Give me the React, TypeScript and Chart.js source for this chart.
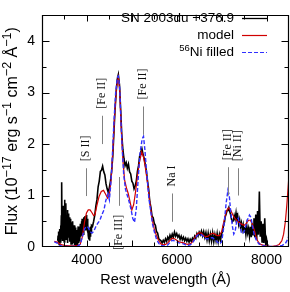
import React, { useEffect, useRef } from 'react';
import { Chart, registerables } from 'chart.js';

Chart.register(...registerables);

const xTickValues = [4000, 6000, 8000];
const yTickValues = [0, 1, 2, 3, 4];

// Observed spectrum SN 2003du +376.9 d: [wavelength (Å), flux]
const observed: [number, number][] = [
  [3350, 0.12], [3358, 0.22], [3366, 0.08], [3374, 0.30], [3382, 0.05], [3390, 0.18], [3398, 0.35],
  [3406, 0.10], [3414, 0.42], [3422, 0.15], [3430, 0.60], [3438, 1.26], [3446, 0.25], [3454, 0.70],
  [3462, 0.12], [3470, 0.80], [3478, 0.30], [3486, 0.55], [3494, 0.10], [3502, 0.92], [3510, 0.40],
  [3518, 0.75], [3526, 0.20], [3534, 0.85], [3542, 0.15], [3550, 0.60], [3558, 0.35], [3566, 0.72],
  [3574, 0.08], [3582, 0.50], [3590, 0.65], [3598, 0.18], [3606, 0.58], [3614, 0.10], [3622, 0.45],
  [3630, 0.25], [3638, 0.55], [3646, 0.06], [3654, 0.48], [3662, 0.20], [3670, 0.38], [3678, 0.05],
  [3686, 0.50], [3694, 0.15], [3702, 0.35], [3710, 0.08], [3718, 0.42], [3726, 0.04], [3734, 0.30],
  [3742, 0.12], [3750, 0.38], [3758, 0.05], [3766, 0.28], [3774, 0.10], [3782, 0.33], [3790, 0.04],
  [3798, 0.25], [3806, 0.40], [3814, 0.08], [3822, 0.30], [3830, 0.12], [3838, 0.38], [3846, 0.15],
  [3854, 0.45], [3862, 0.20], [3870, 0.35], [3878, 0.50], [3886, 0.22], [3894, 0.55], [3902, 0.28],
  [3910, 0.48], [3918, 0.25], [3926, 0.58], [3934, 0.30], [3942, 0.52], [3950, 0.35], [3958, 0.60],
  [3966, 0.32], [3974, 0.55], [3982, 0.42], [3990, 0.62], [3998, 0.38], [4006, 0.55], [4014, 0.30],
  [4022, 0.45], [4030, 0.22], [4038, 0.38], [4046, 0.15], [4054, 0.28], [4062, 0.12], [4070, 0.32],
  [4078, 0.20], [4086, 0.40], [4094, 0.28], [4102, 0.42], [4125, 0.40], [4150, 0.50], [4175, 0.62],
  [4200, 0.80], [4225, 0.93],
  [4250, 1.17], [4275, 1.28], [4300, 1.47], [4325, 1.49], [4350, 1.57], [4375, 1.46], [4400, 1.40],
  [4425, 1.23], [4450, 1.13], [4475, 1.06], [4500, 1.16], [4525, 1.28], [4550, 1.47], [4575, 1.75],
  [4600, 2.20], [4625, 2.65], [4650, 3.00], [4675, 3.25], [4700, 3.35], [4725, 3.15], [4750, 2.70],
  [4775, 2.20], [4800, 1.90], [4825, 1.72], [4850, 1.58], [4875, 1.64], [4900, 1.53], [4925, 1.61],
  [4950, 1.46], [4975, 1.42], [5000, 1.28], [5025, 1.24], [5050, 1.13], [5075, 1.19], [5100, 1.28],
  [5125, 1.47], [5150, 1.58], [5175, 1.77], [5200, 1.84], [5225, 1.91], [5250, 1.80], [5275, 1.72],
  [5300, 1.60], [5325, 1.47], [5350, 1.28], [5375, 1.12], [5400, 0.88], [5425, 0.77], [5450, 0.60],
  [5475, 0.57], [5500, 0.46], [5525, 0.42], [5550, 0.30], [5575, 0.27], [5600, 0.16], [5625, 0.14],
  [5650, 0.12], [5675, 0.08], [5700, 0.13], [5725, 0.09], [5750, 0.16], [5775, 0.11], [5800, 0.19],
  [5825, 0.14], [5850, 0.23], [5875, 0.17], [5900, 0.25], [5925, 0.19], [5950, 0.29], [5975, 0.21],
  [6000, 0.26], [6025, 0.19], [6050, 0.23], [6075, 0.15], [6100, 0.21], [6125, 0.14], [6150, 0.19],
  [6175, 0.12], [6200, 0.17], [6225, 0.11], [6250, 0.16], [6275, 0.09], [6300, 0.15], [6325, 0.11],
  [6350, 0.17], [6375, 0.13], [6400, 0.21], [6425, 0.17], [6450, 0.26], [6475, 0.21], [6500, 0.29],
  [6525, 0.24], [6550, 0.31], [6575, 0.22], [6600, 0.30], [6625, 0.19], [6650, 0.28], [6675, 0.14],
  [6700, 0.27], [6725, 0.12], [6750, 0.25], [6775, 0.11], [6800, 0.27], [6825, 0.10], [6850, 0.24],
  [6875, 0.12], [6900, 0.26], [6925, 0.10], [6950, 0.24], [6975, 0.13], [7000, 0.26], [7020, 0.30],
  [7040, 0.41], [7060, 0.47], [7080, 0.59], [7100, 0.64], [7120, 0.71], [7140, 0.73], [7160, 0.77],
  [7180, 0.69], [7200, 0.63], [7220, 0.54], [7240, 0.49], [7260, 0.51], [7280, 0.61], [7300, 0.54],
  [7320, 0.66], [7340, 0.49], [7360, 0.59], [7380, 0.44], [7400, 0.53], [7420, 0.39], [7440, 0.47],
  [7460, 0.34], [7480, 0.43], [7500, 0.29], [7520, 0.39], [7540, 0.24], [7560, 0.41], [7580, 0.27],
  [7600, 0.36], [7620, 0.21], [7640, 0.39], [7660, 0.19], [7680, 0.46], [7700, 0.24], [7720, 0.56],
  [7740, 0.19], [7760, 0.63], [7780, 0.14], [7800, 0.70], [7820, 0.24], [7840, 1.08], [7860, 0.20],
  [7880, 0.50], [7900, 0.10], [7920, 0.45], [7940, 0.08], [7960, 0.56], [7980, 0.05], [8000, 0.15],
  [8020, 0.03], [8040, 0.05],
];

// Model spectrum
const model: [number, number][] = [
  [3275, 0.11], [3350, 0.09], [3400, 0.06], [3450, 0.04], [3500, 0.03], [3600, 0.02], [3700, 0.02],
  [3800, 0.03], [3850, 0.05], [3900, 0.20], [3950, 0.50], [3990, 0.66], [4030, 0.72], [4070, 0.72],
  [4110, 0.67], [4150, 0.61], [4180, 0.63], [4220, 0.80], [4270, 0.98], [4320, 1.08], [4370, 1.10],
  [4420, 1.02], [4460, 0.95], [4500, 1.02], [4540, 1.32], [4580, 1.90], [4620, 2.60], [4660, 3.10],
  [4700, 3.30], [4730, 3.05], [4760, 2.40], [4800, 1.70], [4840, 1.30], [4880, 1.15], [4920, 1.04],
  [4960, 0.88], [5000, 0.72], [5040, 0.82], [5080, 1.05], [5120, 1.35], [5170, 1.65], [5220, 1.85],
  [5260, 1.75], [5300, 1.55], [5350, 1.25], [5400, 0.88], [5450, 0.55], [5500, 0.35], [5550, 0.22],
  [5600, 0.12], [5650, 0.06], [5700, 0.04], [5750, 0.05], [5800, 0.08], [5850, 0.13], [5900, 0.17],
  [5950, 0.16], [6000, 0.13], [6050, 0.10], [6100, 0.09], [6150, 0.08], [6200, 0.06], [6250, 0.05],
  [6300, 0.06], [6350, 0.10], [6400, 0.18], [6450, 0.25], [6500, 0.28], [6550, 0.27], [6600, 0.22],
  [6650, 0.20], [6700, 0.21], [6750, 0.25], [6800, 0.27], [6850, 0.25], [6900, 0.22], [6950, 0.22],
  [7000, 0.30], [7050, 0.50], [7100, 0.68], [7150, 0.76], [7200, 0.72], [7250, 0.62], [7300, 0.55],
  [7350, 0.50], [7400, 0.47], [7450, 0.44], [7500, 0.42], [7550, 0.46], [7600, 0.52], [7640, 0.52],
  [7680, 0.45], [7720, 0.35], [7760, 0.22], [7800, 0.12], [7850, 0.06], [7900, 0.04], [8000, 0.02],
  [8100, 0.01], [8200, 0.02], [8280, 0.05], [8340, 0.12], [8380, 0.25], [8420, 0.50], [8450, 0.80],
  [8480, 1.15], [8500, 1.40],
];

// 56Ni filled model
const niFilled: [number, number][] = [
  [3275, 0.10], [3350, 0.07], [3400, 0.03], [3450, 0.01], [3500, 0.01], [3600, 0.01], [3700, 0.01],
  [3800, 0.02], [3850, 0.05], [3900, 0.20], [3950, 0.36], [3990, 0.40], [4030, 0.38], [4070, 0.30],
  [4110, 0.27], [4150, 0.30], [4190, 0.38], [4240, 0.46], [4290, 0.52], [4330, 0.62], [4380, 0.72],
  [4420, 0.90], [4470, 1.04], [4500, 0.92], [4530, 1.20], [4560, 1.65], [4600, 2.40], [4640, 3.00],
  [4680, 3.30], [4700, 3.32], [4730, 3.10], [4760, 2.40], [4790, 1.85], [4820, 1.40], [4860, 1.12],
  [4900, 1.00], [4940, 0.88], [4980, 0.74], [5020, 0.56], [5060, 0.48], [5100, 0.75], [5140, 1.30],
  [5180, 1.80], [5230, 2.10], [5260, 2.15], [5290, 1.90], [5330, 1.45], [5380, 0.95], [5420, 0.70],
  [5460, 0.45], [5500, 0.30], [5550, 0.15], [5600, 0.07], [5650, 0.03], [5700, 0.02], [5750, 0.02],
  [5800, 0.04], [5850, 0.09], [5900, 0.13], [5950, 0.12], [6000, 0.10], [6050, 0.08], [6100, 0.07],
  [6150, 0.06], [6200, 0.04], [6250, 0.03], [6300, 0.04], [6350, 0.08], [6400, 0.15], [6450, 0.22],
  [6500, 0.25], [6550, 0.24], [6600, 0.20], [6650, 0.16], [6700, 0.16], [6750, 0.18], [6800, 0.18],
  [6850, 0.14], [6900, 0.10], [6950, 0.06], [7000, 0.10], [7050, 0.40], [7100, 0.85], [7140, 1.10],
  [7170, 1.00], [7200, 0.70], [7240, 0.40], [7270, 0.25], [7300, 0.30], [7340, 0.52], [7370, 0.56],
  [7400, 0.45], [7440, 0.28], [7480, 0.26], [7520, 0.35], [7570, 0.52], [7620, 0.62], [7650, 0.58],
  [7690, 0.40], [7730, 0.22], [7780, 0.12], [7830, 0.06], [7900, 0.03], [8000, 0.01], [8200, 0.01],
  [8350, 0.03], [8420, 0.07], [8470, 0.15], [8500, 0.22],
];

// Line identifications
const lineWaves = [3990, 4335, 4705, 5245, 5900, 7148, 7372];
const lineLabels = ['[S II]', '[Fe II]', '[Fe III]', '[Fe II]', 'Na I', '[Fe II]', '[Ni II]'];
const lineTops = [1.53, 2.55, 1.36, 2.73, 1.04, 1.55, 1.53];
const lineBottoms = [0.99, 2.0, 0.8, 2.18, 0.49, 1.0, 1.0];
const lineLabelBelow = [false, false, true, false, false, false, false];

const legendLabels = ['SN 2003du +376.9', 'model', '^{56}Ni filled'];
const xTitle = 'Rest wavelength (Å)';
const yTitle = 'Flux (10^{−17} erg s^{−1} cm^{−2} Å^{−1})';

const SANS = '"Liberation Sans", Arial, sans-serif';
const SERIF = '"Liberation Serif", "Times New Roman", serif';
const COL_OBS = '#000000';
const COL_MODEL = '#d00000';
const COL_NI = '#3030ff';

type Seg = { t: string; sup: boolean };
function parseRich(s: string): Seg[] {
  const out: Seg[] = [];
  const re = /\^\{([^}]*)\}/g;
  let last = 0;
  let m: RegExpExecArray | null;
  while ((m = re.exec(s))) {
    if (m.index > last) out.push({ t: s.slice(last, m.index), sup: false });
    out.push({ t: m[1], sup: true });
    last = m.index + m[0].length;
  }
  if (last < s.length) out.push({ t: s.slice(last), sup: false });
  return out;
}

function fontFor(size: number) {
  return `${size}px ${SANS}`;
}

function richWidth(ctx: CanvasRenderingContext2D, segs: Seg[], size: number, supSize: number) {
  let w = 0;
  for (const s of segs) {
    ctx.font = fontFor(s.sup ? supSize : size);
    w += ctx.measureText(s.t).width;
  }
  return w;
}

function drawRichRight(ctx: CanvasRenderingContext2D, segs: Seg[], xRight: number, y0: number, size: number, supSize: number, rise: number) {
  let x = xRight;
  ctx.textBaseline = 'middle';
  ctx.textAlign = 'right';
  for (let i = segs.length - 1; i >= 0; i--) {
    const s = segs[i];
    ctx.font = fontFor(s.sup ? supSize : size);
    ctx.fillText(s.t, x, s.sup ? y0 - rise : y0);
    x -= ctx.measureText(s.t).width;
  }
}

const decorPlugin = {
  id: 'decor',
  afterDatasetsDraw(chart: any) {
    const { ctx, scales } = chart;
    const xs = scales.x;
    const ys = scales.y;
    ctx.save();
    for (let i = 0; i < lineWaves.length; i++) {
      const px = Math.round(xs.getPixelForValue(lineWaves[i])) + 0.5;
      const yt = ys.getPixelForValue(lineTops[i]);
      const yb = ys.getPixelForValue(lineBottoms[i]);
      ctx.strokeStyle = '#808080';
      ctx.lineWidth = 1;
      ctx.setLineDash([]);
      ctx.beginPath();
      ctx.moveTo(px, yt);
      ctx.lineTo(px, yb);
      ctx.stroke();
      ctx.font = `12px ${SERIF}`;
      ctx.fillStyle = '#111';
      ctx.textAlign = 'left';
      const w = ctx.measureText(lineLabels[i]).width;
      const start = lineLabelBelow[i] ? yb + 9 + w : yt - 7;
      ctx.save();
      ctx.translate(px - 1, start);
      ctx.rotate(-Math.PI / 2);
      ctx.textBaseline = 'middle';
      ctx.fillText(lineLabels[i], 0, 0);
      ctx.restore();
    }
    ctx.restore();
  },
  afterDraw(chart: any) {
    const { ctx, chartArea: a, scales } = chart;
    const xs = scales.x;
    const ys = scales.y;
    ctx.save();
    ctx.setLineDash([]);

    const L = Math.round(a.left) + 0.5;
    const R = Math.round(a.right) - 0.5;
    const T = Math.round(a.top) + 0.5;
    const B = Math.round(a.bottom) - 0.5;
    ctx.strokeStyle = '#000';
    ctx.lineWidth = 1.2;
    ctx.beginPath();
    ctx.rect(L, T, R - L, B - T);
    ctx.stroke();
    ctx.lineWidth = 1;
    ctx.beginPath();
    for (let v = 3500; v < 8500; v += 500) {
      const px = Math.round(xs.getPixelForValue(v)) + 0.5;
      const len = v % 1000 === 0 ? 6 : 4;
      ctx.moveTo(px, B); ctx.lineTo(px, B - len);
      ctx.moveTo(px, T); ctx.lineTo(px, T + len);
    }
    for (let v = 0.5; v < 4.5; v += 0.5) {
      const py = Math.round(ys.getPixelForValue(v)) + 0.5;
      const len = Number.isInteger(v) ? 7 : 4;
      ctx.moveTo(L, py); ctx.lineTo(L + len, py);
      ctx.moveTo(R, py); ctx.lineTo(R - len, py);
    }
    ctx.stroke();

    // legend
    const rowY = [18, 35, 52];
    const cols = [COL_OBS, COL_MODEL, COL_NI];
    const dashes = [[], [], [4, 2]];
    for (let i = 0; i < legendLabels.length; i++) {
      const segs = parseRich(legendLabels[i]);
      ctx.fillStyle = '#000';
      drawRichRight(ctx, segs, 234, rowY[i], 13.5, 9.5, 4);
      ctx.strokeStyle = cols[i];
      ctx.lineWidth = i === 0 ? 1.3 : 1.2;
      ctx.setLineDash(dashes[i]);
      ctx.beginPath();
      ctx.moveTo(242, rowY[i] + 0.5);
      ctx.lineTo(267, rowY[i] + 0.5);
      ctx.stroke();
      ctx.setLineDash([]);
    }

    ctx.fillStyle = '#000';
    ctx.font = fontFor(14.5);
    ctx.textAlign = 'center';
    ctx.textBaseline = 'middle';
    ctx.fillText(xTitle, (a.left + a.right) / 2, 280);

    const ysegs = parseRich(yTitle);
    const yw = richWidth(ctx, ysegs, 16, 12.5);
    ctx.save();
    ctx.translate(13, (a.top + a.bottom) / 2);
    ctx.rotate(-Math.PI / 2);
    drawRichRight(ctx, ysegs, yw / 2, 0, 16, 12.5, 5);
    ctx.restore();
    ctx.restore();
  },
};

export default function App() {
  const ref = useRef<HTMLCanvasElement | null>(null);
  useEffect(() => {
    if (!ref.current) return;
    const toXY = (arr: [number, number][]) => arr.map(([x, y]) => ({ x, y }));
    const tickFont = { family: SANS, size: 14 };
    const chart = new Chart(ref.current, {
      type: 'line',
      data: {
        datasets: [
          { label: 'SN 2003du +376.9', data: toXY(observed), borderColor: COL_OBS, borderWidth: 1.6, pointRadius: 0, tension: 0, order: 3 },
          { label: 'model', data: toXY(model), borderColor: COL_MODEL, borderWidth: 1.2, pointRadius: 0, tension: 0, order: 2 },
          { label: '56Ni filled', data: toXY(niFilled), borderColor: COL_NI, borderWidth: 1.4, borderDash: [4, 2], pointRadius: 0, tension: 0, order: 1 },
        ],
      },
      options: {
        animation: false,
        responsive: false,
        devicePixelRatio: 1,
        layout: { padding: { top: 0, right: 1, left: 0, bottom: 0 } },
        plugins: { legend: { display: false }, tooltip: { enabled: false }, title: { display: false } },
        scales: {
          x: {
            type: 'linear',
            min: 3000,
            max: 8500,
            afterBuildTicks: (s: any) => { s.ticks = xTickValues.map((v) => ({ value: v })); },
            afterFit: (s: any) => { s.height = 45; },
            ticks: { font: tickFont, color: '#000', padding: 5, maxRotation: 0, autoSkip: false, callback: (v: any) => String(v) },
            grid: { display: false, drawTicks: false },
            border: { display: false },
          },
          y: {
            type: 'linear',
            min: 0,
            max: 4.5,
            afterBuildTicks: (s: any) => { s.ticks = yTickValues.map((v) => ({ value: v })); },
            afterFit: (s: any) => { s.width = 42; },
            ticks: { font: tickFont, color: '#000', padding: 7, autoSkip: false, callback: (v: any) => String(v) },
            grid: { display: false, drawTicks: false },
            border: { display: false },
          },
        },
      },
      plugins: [decorPlugin],
    } as any);
    return () => chart.destroy();
  }, []);
  return (
    <div style={{ position: 'absolute', left: 0, top: 0, width: 290, height: 292, background: '#fff' }}>
      <canvas ref={ref} width={290} height={292} />
    </div>
  );
}
